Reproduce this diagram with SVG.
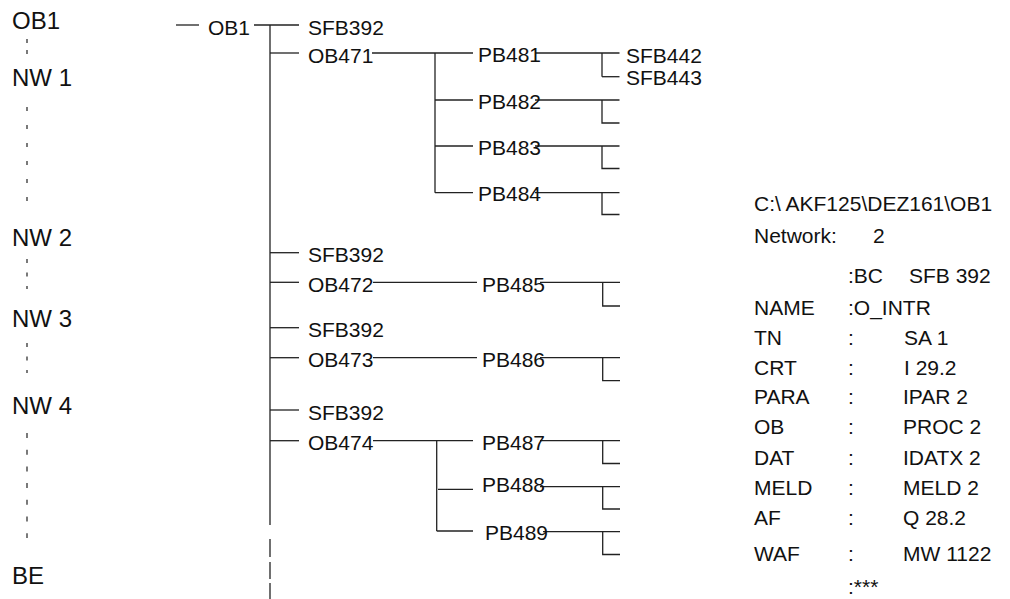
<svg xmlns="http://www.w3.org/2000/svg" width="1010" height="599" viewBox="0 0 1010 599">
<style>
text{font-family:"Liberation Sans",Arial,sans-serif;fill:#111}
.big{font-size:24px}
.t{font-size:21px}
.ln{stroke:#222;stroke-width:1.3;fill:none}
.dl{stroke:#222;stroke-width:1.2;fill:none}
</style>
<rect width="1010" height="599" fill="#fff"/>
<g id="left-labels">
<text class="big" x="12" y="29">OB1</text>
<text class="big" x="12" y="86">NW 1</text>
<text class="big" x="12" y="246">NW 2</text>
<text class="big" x="12" y="327">NW 3</text>
<text class="big" x="12" y="414">NW 4</text>
<text class="big" x="12" y="584">BE</text>
</g>
<g id="left-dashes" class="dl">
<line x1="27" y1="39" x2="27" y2="54" stroke-dasharray="4 7"/>
<line x1="27" y1="107" x2="27" y2="206" stroke-dasharray="4 14"/>
<line x1="27" y1="259" x2="27" y2="289" stroke-dasharray="4 9.5"/>
<line x1="27" y1="343" x2="27" y2="373" stroke-dasharray="4 9.5"/>
<line x1="27" y1="433" x2="27" y2="538" stroke-dasharray="5 11.7"/>
</g>
<g id="connectors" class="ln">
<line x1="176" y1="25" x2="199" y2="25"/>
<line x1="254" y1="25" x2="299" y2="25"/>
<line x1="270" y1="25" x2="270" y2="525"/>
<line x1="270" y1="539" x2="270" y2="557"/>
<line x1="270" y1="562" x2="270" y2="579"/>
<line x1="270" y1="583" x2="270" y2="599"/>
<line x1="270" y1="53" x2="299" y2="53"/>
<line x1="270" y1="252.7" x2="299" y2="252.7"/>
<line x1="270" y1="282.3" x2="299" y2="282.3"/>
<line x1="270" y1="327.7" x2="299" y2="327.7"/>
<line x1="270" y1="357.7" x2="299" y2="357.7"/>
<line x1="270" y1="410" x2="299" y2="410"/>
<line x1="270" y1="440.7" x2="299" y2="440.7"/>
<!-- OB471 -->
<line x1="372" y1="53" x2="473" y2="53"/>
<line x1="435" y1="53" x2="435" y2="192.7"/>
<line x1="435" y1="100" x2="473" y2="100"/>
<line x1="435" y1="146" x2="473" y2="146"/>
<line x1="435" y1="192.7" x2="473" y2="192.7"/>
<!-- PB481 -->
<line x1="535" y1="53" x2="619.5" y2="53"/>
<line x1="602" y1="53" x2="602" y2="76.7"/>
<line x1="602" y1="76.7" x2="619.5" y2="76.7"/>
<!-- PB482-484 -->
<line x1="535" y1="100" x2="619.5" y2="100"/>
<polyline points="602,100 602,123 619.5,123"/>
<line x1="535" y1="146" x2="619.5" y2="146"/>
<polyline points="602,146 602,168.5 619.5,168.5"/>
<line x1="535" y1="192.7" x2="619.5" y2="192.7"/>
<polyline points="602,192.7 602,214.5 619.5,214.5"/>
<!-- OB472/PB485 -->
<line x1="373" y1="282.3" x2="477" y2="282.3"/>
<line x1="540" y1="282.3" x2="620" y2="282.3"/>
<polyline points="602.7,282.3 602.7,306 620,306"/>
<!-- OB473/PB486 -->
<line x1="373" y1="357.7" x2="477" y2="357.7"/>
<line x1="540" y1="357.7" x2="620" y2="357.7"/>
<polyline points="602.7,357.7 602.7,380.7 620,380.7"/>
<!-- OB474 -->
<line x1="373" y1="440.7" x2="473" y2="440.7"/>
<line x1="436.7" y1="440.7" x2="436.7" y2="531"/>
<line x1="438" y1="489.3" x2="473" y2="489.3"/>
<line x1="436.7" y1="531" x2="473" y2="531"/>
<line x1="540" y1="440.7" x2="620" y2="440.7"/>
<polyline points="602.7,440.7 602.7,463.5 620,463.5"/>
<line x1="540" y1="486.7" x2="620" y2="486.7"/>
<polyline points="602.7,486.7 602.7,509 620,509"/>
<line x1="543" y1="531.7" x2="620" y2="531.7"/>
<polyline points="602.7,531.7 602.7,554.5 620,554.5"/>
</g>
<g id="n-ob1"><text class="t" x="208" y="34.5">OB1</text></g>
<g id="n-sfb392-1"><text class="t" x="308" y="34.5">SFB392</text></g>
<g id="n-ob471"><text class="t" x="308" y="62.5">OB471</text></g>
<g id="n-pb481"><text class="t" x="478" y="62">PB481</text></g>
<g id="n-sfb442"><text class="t" x="626" y="63">SFB442</text></g>
<g id="n-sfb443"><text class="t" x="626" y="85">SFB443</text></g>
<g id="n-pb482"><text class="t" x="478" y="108.5">PB482</text></g>
<g id="n-pb483"><text class="t" x="478" y="155">PB483</text></g>
<g id="n-pb484"><text class="t" x="478" y="201">PB484</text></g>
<g id="n-sfb392-2"><text class="t" x="308" y="262">SFB392</text></g>
<g id="n-ob472"><text class="t" x="308" y="291.5">OB472</text></g>
<g id="n-pb485"><text class="t" x="482" y="291.5">PB485</text></g>
<g id="n-sfb392-3"><text class="t" x="308" y="337">SFB392</text></g>
<g id="n-ob473"><text class="t" x="308" y="367">OB473</text></g>
<g id="n-pb486"><text class="t" x="482" y="367">PB486</text></g>
<g id="n-sfb392-4"><text class="t" x="308" y="419.5">SFB392</text></g>
<g id="n-ob474"><text class="t" x="308" y="450">OB474</text></g>
<g id="n-pb487"><text class="t" x="482" y="449.5">PB487</text></g>
<g id="n-pb488"><text class="t" x="482" y="492">PB488</text></g>
<g id="n-pb489"><text class="t" x="485" y="540">PB489</text></g>
<g id="info">
<text class="t" x="754" y="211">C:\ AKF125\DEZ161\OB1</text>
<text class="t" x="754" y="243">Network:</text><text class="t" x="873" y="243">2</text>
<text class="t" x="848" y="283">:BC</text><text class="t" x="909" y="283">SFB 392</text>
<text class="t" x="754" y="315">NAME</text><text class="t" x="848" y="315">:O_INTR</text>
<text class="t" x="754" y="345">TN</text><text class="t" x="848" y="345">:</text><text class="t" x="904" y="345">SA 1</text>
<text class="t" x="754" y="375">CRT</text><text class="t" x="848" y="375">:</text><text class="t" x="904" y="375">I 29.2</text>
<text class="t" x="754" y="403.5">PARA</text><text class="t" x="848" y="403.5">:</text><text class="t" x="903" y="403.5">IPAR 2</text>
<text class="t" x="754" y="434">OB</text><text class="t" x="848" y="434">:</text><text class="t" x="903" y="434">PROC 2</text>
<text class="t" x="754" y="464.5">DAT</text><text class="t" x="848" y="464.5">:</text><text class="t" x="903" y="464.5">IDATX 2</text>
<text class="t" x="754" y="495">MELD</text><text class="t" x="848" y="495">:</text><text class="t" x="903" y="495">MELD 2</text>
<text class="t" x="754" y="525">AF</text><text class="t" x="848" y="525">:</text><text class="t" x="903" y="525">Q 28.2</text>
<text class="t" x="754" y="561">WAF</text><text class="t" x="848" y="561">:</text><text class="t" x="903" y="561">MW 1122</text>
<text class="t" x="848" y="594">:***</text>
</g>
</svg>
